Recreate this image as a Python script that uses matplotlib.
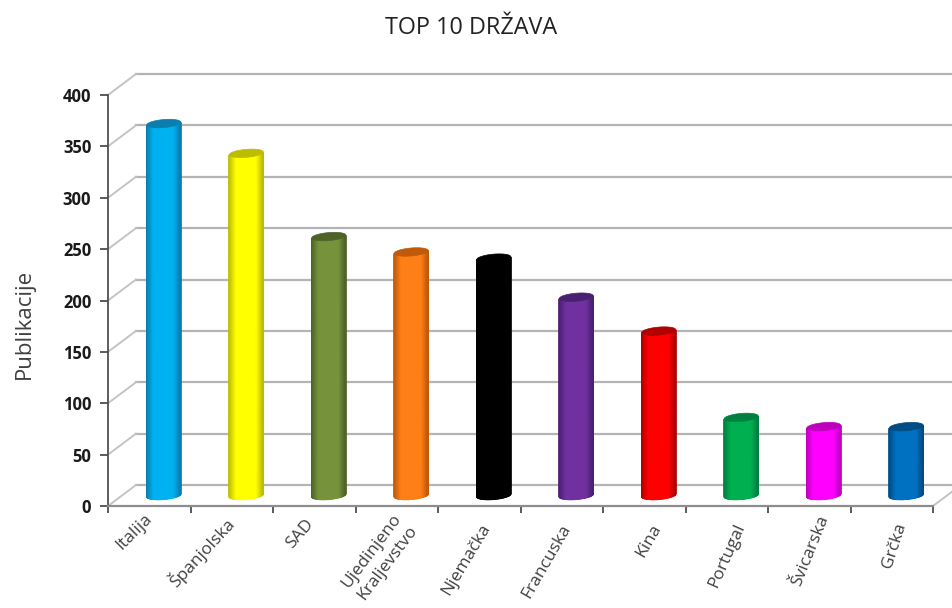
import numpy as np
import matplotlib
matplotlib.use("Agg")
import matplotlib.pyplot as plt
from matplotlib.colors import LinearSegmentedColormap
from matplotlib.transforms import ScaledTranslation

plt.rcParams["font.family"] = ["Open Sans", "DejaVu Sans"]

drzave = ["Italija", "Španjolska", "SAD", "Ujedinjeno\nKraljevstvo", "Njemačka",
          "Francuska", "Kina", "Portugal", "Švicarska", "Grčka"]
publikacije = [362, 333, 252, 237, 231, 193, 160, 76, 67, 67]
y_ticks = [0, 50, 100, 150, 200, 250, 300, 350, 400]
boje = ["#00B0F0", "#FFFF00", "#76933C", "#FF7F17", "#000000",
        "#7030A0", "#FF0000", "#00B050", "#FF00FF", "#0070C0"]
tamne = ["#0A7FAE", "#BDBD00", "#4F6228", "#C05A0A", "#000000",
         "#4A2070", "#B00000", "#008040", "#BE00BE", "#004C85"]

# the labels fan out with the perspective of the 3d chart
kutovi = [45, 47, 49, 53, 59, 60, 60, 66, 68, 72]
pomaci_oznaka = [(-5, 11), (-8, 8), (-9, 5), (-5, 10), (1, 0),
                 (-2, 0), (6, 0), (7, 0), (8, 8), (2, 0)]

W, H = 952, 608
fig = plt.figure(figsize=(W / 100, H / 100), dpi=100)
ax = fig.add_axes([108 / W, (H - 506) / H, 825 / W, 411 / H])

px_x = 10 / 825  # one pixel in data units
px_y = 400 / 411


def pomak(dx, dy):
    return ax.transData + ScaledTranslation(dx / 100, dy / 100, fig.dpi_scale_trans)


# back wall, floor diagonals
straga = pomak(28, 21)
for v in y_ticks:
    ax.plot([0, 10], [v, v], color="#B4B4B4", lw=1.6, transform=straga, clip_on=False, zorder=1)
    ax.plot([0, 28 * px_x], [v, v + 21 * px_y], color="#C4C4C4", lw=1.4, clip_on=False, zorder=1)
ax.plot([10, 10 + 28 * px_x], [0, 21 * px_y], color="#C4C4C4", lw=1.4, clip_on=False, zorder=1)

# cylinders
sredina = pomak(14.5, 10.5)
theta = np.linspace(np.pi, 0, 60)
a = 17 * px_x
b = 4 * px_y
k = 1.4 * px_y
for i, v in enumerate(publikacije):
    x = i + 0.5 + a * np.cos(theta)
    rub = k * np.cos(theta) - b * np.sin(theta)
    X = np.vstack([x, x])
    Y = np.vstack([rub, v + rub])
    C = np.vstack([np.abs(np.cos(theta))] * 2)
    cmap = LinearSegmentedColormap.from_list(
        "cil", [(0, boje[i]), (0.6, boje[i]), (1, tamne[i])])
    ax.pcolormesh(X, Y, C, shading="gouraud", cmap=cmap, vmin=0, vmax=1,
                  transform=sredina, zorder=3)
    t = np.linspace(0, 2 * np.pi, 80)
    ax.fill(i + 0.5 + a * np.cos(t), v + k * np.cos(t) + b * np.sin(t),
            color=tamne[i], lw=0.5, transform=sredina, zorder=4, clip_on=False)

ax.set_xlim(0, 10)
ax.set_ylim(0, 400)
ax.spines["top"].set_visible(False)
ax.spines["right"].set_visible(False)
ax.spines["left"].set_color("#505050")
ax.spines["left"].set_linewidth(1.3)
ax.spines["bottom"].set_color("#8C8C8C")
ax.spines["bottom"].set_linewidth(1.6)
ax.patch.set_visible(False)

ax.set_yticks(y_ticks)
ax.set_yticklabels([str(v) for v in y_ticks], fontsize=12, fontweight="bold", color="#1A1A1A")
ax.tick_params(axis="y", length=6, width=1.2, color="#404040", pad=6)

ax.set_xticks(range(11))
ax.set_xticklabels([])
ax.tick_params(axis="x", length=5, width=1.2, color="#404040")
ax.set_xticks(np.arange(10) + 0.5, minor=True)
ax.set_xticklabels(drzave, minor=True, ha="right", rotation_mode="anchor",
                   fontsize=12.5, color="#404040", linespacing=1.3)
ax.tick_params(axis="x", which="minor", length=0, pad=11)
for oznaka, kut, (dx, dy) in zip(ax.get_xticklabels(minor=True), kutovi, pomaci_oznaka):
    oznaka.set_rotation(kut)
    oznaka.set_transform(oznaka.get_transform()
                         + ScaledTranslation(dx / 100, dy / 100, fig.dpi_scale_trans))

fig.text(471 / W, 1 - 28 / H, "TOP 10 DRŽAVA", ha="center", va="center", fontsize=16.8, color="#222222")
fig.text(24 / W, 1 - 324 / H, "Publikacije", rotation=90, ha="center", va="center",
         fontsize=16, color="#404040")

fig.savefig("out.png", dpi=100)
